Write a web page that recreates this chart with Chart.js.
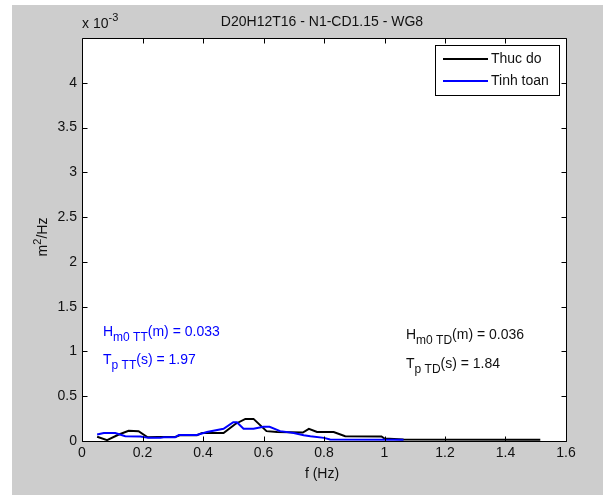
<!DOCTYPE html>
<html>
<head>
<meta charset="utf-8">
<title>D20H12T16 - N1-CD1.15 - WG8</title>
<script src="https://cdn.jsdelivr.net/npm/chart.js@4.4.1/dist/chart.umd.min.js"></script>
<style>
  html, body { margin: 0; padding: 0; background: #fff; }
  canvas { display: block; }
</style>
</head>
<body>
<canvas id="spectrum" width="611" height="495"></canvas>
<script>
// spectra (y in units of 1e-3 m^2/Hz)
const freqThucDo = [0.05, 0.083, 0.12, 0.154, 0.187, 0.217, 0.25, 0.308, 0.325, 0.38, 0.397, 0.468, 0.507, 0.54, 0.567, 0.61, 0.645, 0.73, 0.75, 0.777, 0.832, 0.87, 0.99, 1.0, 1.063, 1.515]
const specThucDo = [0.047, 0.01, 0.07, 0.114, 0.11, 0.042, 0.045, 0.045, 0.065, 0.065, 0.09, 0.09, 0.19, 0.247, 0.247, 0.11, 0.1, 0.095, 0.136, 0.1, 0.1, 0.053, 0.05, 0.028, 0.017, 0.015]

const freqTinhToan = [0.05, 0.072, 0.11, 0.143, 0.193, 0.22, 0.259, 0.27, 0.308, 0.32, 0.38, 0.413, 0.468, 0.5, 0.512, 0.534, 0.567, 0.6, 0.62, 0.655, 0.7, 0.733, 0.755, 0.8, 0.82, 1.063]
const specTinhToan = [0.072, 0.09, 0.09, 0.053, 0.05, 0.035, 0.035, 0.042, 0.042, 0.068, 0.068, 0.1, 0.136, 0.21, 0.21, 0.136, 0.136, 0.158, 0.158, 0.11, 0.09, 0.065, 0.053, 0.035, 0.017, 0.015]

const seriesNames = ['Thuc do', 'Tinh toan']
const seriesColors = ['#000000', '#0000ff']

const chartTitle = 'D20H12T16 - N1-CD1.15 - WG8'
const xTitle = 'f (Hz)'

const FONT = '"Liberation Sans", Arial, Helvetica, sans-serif'
const TEXT = '#111'

function toPoints(xs, ys) {
  return xs.map((x, i) => ({ x, y: ys[i] }))
}

// draw a run of [text, size, dy] pieces left to right
function drawRuns(ctx, x, y, runs) {
  let cx = x
  for (const [text, size, dy] of runs) {
    ctx.font = size + 'px ' + FONT
    ctx.fillText(text, cx, y + dy)
    cx += ctx.measureText(text).width
  }
  return cx - x
}

function runsWidth(ctx, runs) {
  let w = 0
  for (const [text, size] of runs) {
    ctx.font = size + 'px ' + FONT
    w += ctx.measureText(text).width
  }
  return w
}

const matlabFrame = {
  id: 'matlabFrame',
  beforeDraw(chart) {
    const { ctx, chartArea: a } = chart
    ctx.save()
    ctx.fillStyle = '#fff'
    ctx.fillRect(0, 0, chart.width, chart.height)
    ctx.fillStyle = '#cdcdcd'
    ctx.fillRect(12, 5, 591, 490)
    ctx.fillStyle = '#fff'
    ctx.fillRect(a.left, a.top, a.right - a.left, a.bottom - a.top)
    ctx.restore()
  },
  afterDraw(chart) {
    const { ctx, chartArea: a, scales } = chart
    const L = Math.round(a.left) + 0.5
    const R = Math.round(a.right) + 0.5
    const T = Math.round(a.top) + 0.5
    const B = Math.round(a.bottom) + 0.5
    ctx.save()

    // axes box and inward ticks
    ctx.strokeStyle = '#000'
    ctx.lineWidth = 1
    ctx.beginPath()
    ctx.rect(L, T, R - L, B - T)
    scales.x.ticks.forEach((t) => {
      const px = Math.round(scales.x.getPixelForValue(t.value)) + 0.5
      ctx.moveTo(px, B); ctx.lineTo(px, B - 5)
      ctx.moveTo(px, T); ctx.lineTo(px, T + 5)
    })
    scales.y.ticks.forEach((t) => {
      if (t.value > 4.01) return
      const py = Math.round(scales.y.getPixelForValue(t.value)) + 0.5
      ctx.moveTo(L, py); ctx.lineTo(L + 5, py)
      ctx.moveTo(R, py); ctx.lineTo(R - 5, py)
    })
    ctx.stroke()

    ctx.fillStyle = TEXT
    ctx.textBaseline = 'alphabetic'

    // title
    ctx.font = '14px ' + FONT
    ctx.textAlign = 'center'
    ctx.fillText(chartTitle, 322, 26)
    // x axis title
    ctx.fillText(xTitle, 322, 478)

    // exponent label
    ctx.textAlign = 'left'
    drawRuns(ctx, 82, 28, [['x 10', 14, 0], ['-3', 11, -7]])

    // y axis title, rotated
    ctx.save()
    ctx.translate(47, 237)
    ctx.rotate(-Math.PI / 2)
    const yRuns = [['m', 14, 0], ['2', 11, -6], ['/Hz', 14, 0]]
    drawRuns(ctx, -runsWidth(ctx, yRuns) / 2, 0, yRuns)
    ctx.restore()

    // legend
    ctx.fillStyle = '#fff'
    ctx.fillRect(435, 45, 124, 50)
    ctx.strokeStyle = '#000'
    ctx.lineWidth = 1
    ctx.strokeRect(435.5, 45.5, 124, 50)
    seriesNames.forEach((name, i) => {
      const y = 59 + i * 22
      ctx.strokeStyle = seriesColors[i]
      ctx.lineWidth = 2
      ctx.beginPath()
      ctx.moveTo(443, y); ctx.lineTo(488, y)
      ctx.stroke()
      ctx.fillStyle = TEXT
      ctx.font = '14px ' + FONT
      ctx.textBaseline = 'middle'
      ctx.fillText(name, 491, y)
    })
    ctx.textBaseline = 'alphabetic'

    // wave parameters
    ctx.fillStyle = '#0000ff'
    drawRuns(ctx, 103, 336, [['H', 14, 0], ['m0 TT', 12, 5], ['(m) = 0.033', 14, 0]])
    drawRuns(ctx, 103, 364, [['T', 14, 0], ['p TT', 12, 5], ['(s) = 1.97', 14, 0]])
    ctx.fillStyle = TEXT
    drawRuns(ctx, 406, 339, [['H', 14, 0], ['m0 TD', 12, 5], ['(m) = 0.036', 14, 0]])
    drawRuns(ctx, 406, 368, [['T', 14, 0], ['p TD', 12, 5], ['(s) = 1.84', 14, 0]])

    ctx.restore()
  }
}

/* eslint-disable no-new */
new Chart(document.getElementById('spectrum'), {
  type: 'line',
  data: {
    datasets: [
      {
        label: seriesNames[0],
        data: toPoints(freqThucDo, specThucDo),
        borderColor: seriesColors[0],
        borderWidth: 2,
        pointRadius: 0,
        tension: 0,
        order: 2
      },
      {
        label: seriesNames[1],
        data: toPoints(freqTinhToan, specTinhToan),
        borderColor: seriesColors[1],
        borderWidth: 2,
        pointRadius: 0,
        tension: 0,
        order: 1
      }
    ]
  },
  options: {
    responsive: false,
    animation: false,
    layout: { padding: { top: 38, right: 45, bottom: 0, left: 0 } },
    plugins: {
      legend: { display: false },
      title: { display: false },
      tooltip: { enabled: false }
    },
    scales: {
      x: {
        type: 'linear',
        min: 0,
        max: 1.6,
        afterFit: (s) => { s.height = 54 },
        grid: { display: false, drawTicks: false },
        border: { display: false },
        ticks: {
          stepSize: 0.2,
          padding: 4,
          maxRotation: 0,
          autoSkip: false,
          color: TEXT,
          font: { family: FONT, size: 14 },
          callback: (v) => String(+v.toFixed(2))
        }
      },
      y: {
        min: 0,
        max: 4.5,
        afterFit: (s) => { s.width = 82 },
        grid: { display: false, drawTicks: false },
        border: { display: false },
        ticks: {
          stepSize: 0.5,
          padding: 5,
          color: TEXT,
          font: { family: FONT, size: 14 },
          callback: (v) => (v > 4.01 ? '' : String(+v.toFixed(2)))
        }
      }
    }
  },
  plugins: [matlabFrame]
})
</script>
</body>
</html>
